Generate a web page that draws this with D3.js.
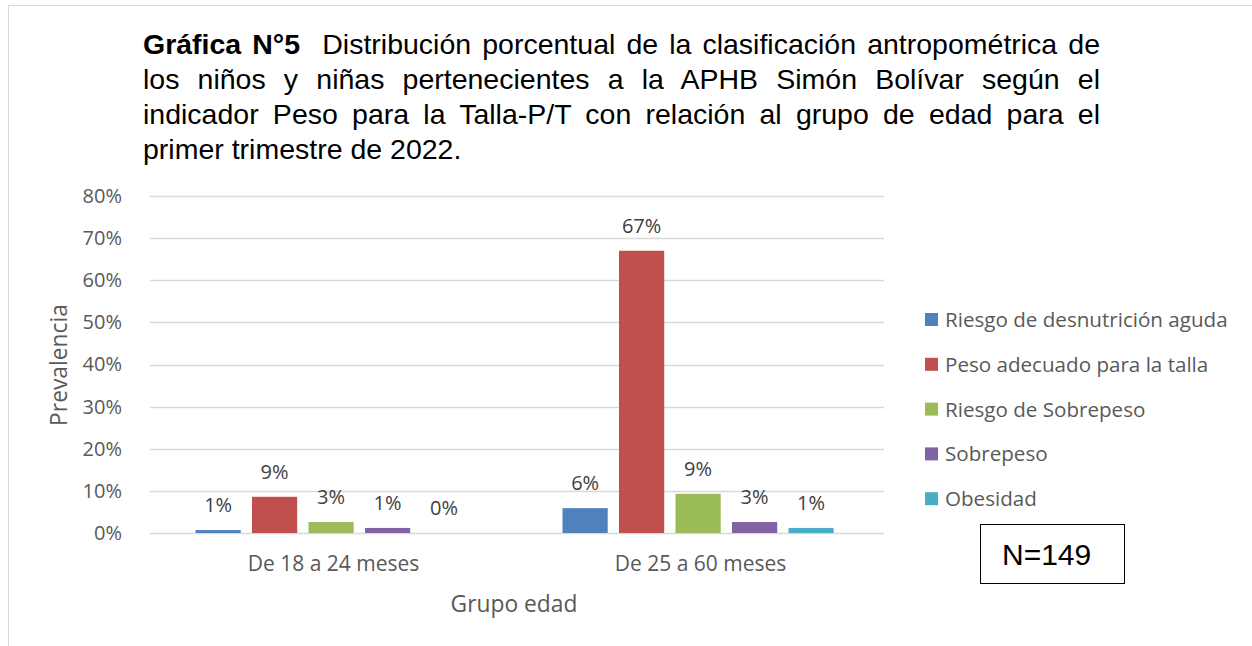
<!DOCTYPE html>
<html>
<head>
<meta charset="utf-8">
<script src="https://cdn.jsdelivr.net/npm/d3@7"></script>
<style>
  body { margin: 0; background: #fff; }
  #wrap { position: relative; width: 1252px; height: 646px; overflow: hidden; }
  #title {
    position: absolute; left: 143px; top: 27px; width: 957px;
    font-family: Arial, "Liberation Sans", sans-serif; font-size: 28.5px;
    line-height: 35px; text-align: justify; color: #000;
  }
  svg { position: absolute; left: 0; top: 0; }
</style>
</head>
<body>
<div id="wrap">
  <svg id="chart" width="1252" height="646"></svg>
  <div id="title"><b>Gráfica N°5</b>&nbsp; Distribución porcentual de la clasificación antropométrica de los niños y niñas pertenecientes a la APHB Simón Bolívar según el indicador Peso para la Talla-P/T con relación al grupo de edad para el primer trimestre de 2022.</div>
</div>
<script>
// data
const groups = ['De 18 a 24 meses', 'De 25 a 60 meses'];
const series = ['Riesgo de desnutrición aguda', 'Peso adecuado para la talla', 'Riesgo de Sobrepeso', 'Sobrepeso', 'Obesidad'];
const values18a24 = [0.007, 0.086, 0.026, 0.012, 0.0];
const values25a60 = [0.059, 0.670, 0.093, 0.026, 0.012];
const colors = ['#4F81BD', '#C0504D', '#9BBB59', '#8064A2', '#4BACC6'];
const yTicks = [0, 0.1, 0.2, 0.3, 0.4, 0.5, 0.6, 0.7, 0.8];

const rows = [values18a24, values25a60];
const font = '"Open Sans", Lato, sans-serif';
const grey = '#595959';

const svg = d3.select('#chart');

// outer chart border
svg.append('rect')
  .attr('x', 8.5).attr('y', 5.5)
  .attr('width', 1300).attr('height', 700)
  .attr('fill', 'none')
  .attr('stroke', '#d9d9d9');

const plot = { left: 150, right: 884, top: 196, bottom: 533 };

const x0 = d3.scaleBand().domain(groups).range([plot.left, plot.right]);
const x1 = d3.scaleBand().domain(series).range([0, x0.bandwidth()])
  .paddingInner(0.2).paddingOuter(0.848).align(0.475);
const y = d3.scaleLinear().domain([0, 0.8]).range([plot.bottom, plot.top]);

// gridlines
svg.append('g')
  .selectAll('line')
  .data(yTicks)
  .enter().append('line')
  .attr('x1', plot.left).attr('x2', plot.right)
  .attr('y1', d => Math.round(y(d)) + 0.5)
  .attr('y2', d => Math.round(y(d)) + 0.5)
  .attr('stroke', '#d9d9d9')
  .attr('stroke-width', 1.5);

// y axis labels
const yAxis = svg.append('g')
  .attr('transform', `translate(${plot.left - 28},0)`)
  .call(d3.axisLeft(y).tickValues(yTicks).tickFormat(d3.format('.0%')).tickSize(0).tickPadding(0));
yAxis.select('.domain').remove();
yAxis.selectAll('text')
  .attr('font-family', font).attr('font-size', 20).attr('fill', grey);

// x axis labels
const xAxis = svg.append('g')
  .attr('transform', `translate(0,${plot.bottom})`)
  .call(d3.axisBottom(x0).tickSize(0).tickPadding(23));
xAxis.select('.domain').remove();
xAxis.selectAll('text')
  .attr('font-family', font).attr('font-size', 21).attr('fill', grey);

// bars
const groupG = svg.append('g')
  .selectAll('g')
  .data(rows)
  .enter().append('g')
  .attr('transform', (d, i) => `translate(${x0(groups[i])},0)`);

const bar = groupG.selectAll('g.bar')
  .data(d => d.map((v, j) => ({ key: series[j], value: v, color: colors[j] })))
  .enter().append('g')
  .classed('bar', true);

bar.append('rect')
  .attr('x', d => x1(d.key))
  .attr('y', d => y(d.value))
  .attr('width', x1.bandwidth())
  .attr('height', d => y(0) - y(d.value))
  .attr('fill', d => d.color);

bar.append('text')
  .attr('x', d => x1(d.key) + x1.bandwidth() / 2)
  .attr('y', d => y(d.value) - 18)
  .attr('text-anchor', 'middle')
  .attr('font-family', font).attr('font-size', 20).attr('fill', '#404040')
  .text(d => d3.format('.0%')(d.value));

// axis titles
svg.append('text')
  .attr('x', (plot.left + plot.right) / 2 - 3).attr('y', 612)
  .attr('text-anchor', 'middle')
  .attr('font-family', font).attr('font-size', 22.8).attr('fill', grey)
  .text('Grupo edad');

svg.append('text')
  .attr('transform', 'translate(67,365) rotate(-90)')
  .attr('text-anchor', 'middle')
  .attr('font-family', font).attr('font-size', 22.8).attr('fill', grey)
  .text('Prevalencia');

// legend
const legend = svg.append('g').attr('transform', 'translate(925,320)');
const item = legend.selectAll('g')
  .data(series)
  .enter().append('g')
  .attr('transform', (d, i) => `translate(0,${i * 44.8})`);
item.append('rect')
  .attr('x', 0).attr('y', -7)
  .attr('width', 13).attr('height', 13)
  .attr('fill', (d, i) => colors[i]);
item.append('text')
  .attr('x', 20).attr('y', 7)
  .attr('font-family', font).attr('font-size', 20.6).attr('fill', grey)
  .text(d => d);

// N box
svg.append('rect')
  .attr('x', 980.5).attr('y', 524.5)
  .attr('width', 144).attr('height', 59)
  .attr('fill', '#fff').attr('stroke', '#000');
svg.append('text')
  .attr('x', 1002).attr('y', 565)
  .attr('font-family', 'Arial, "Liberation Sans", sans-serif').attr('font-size', 30)
  .text('N=149');
</script>
</body>
</html>
